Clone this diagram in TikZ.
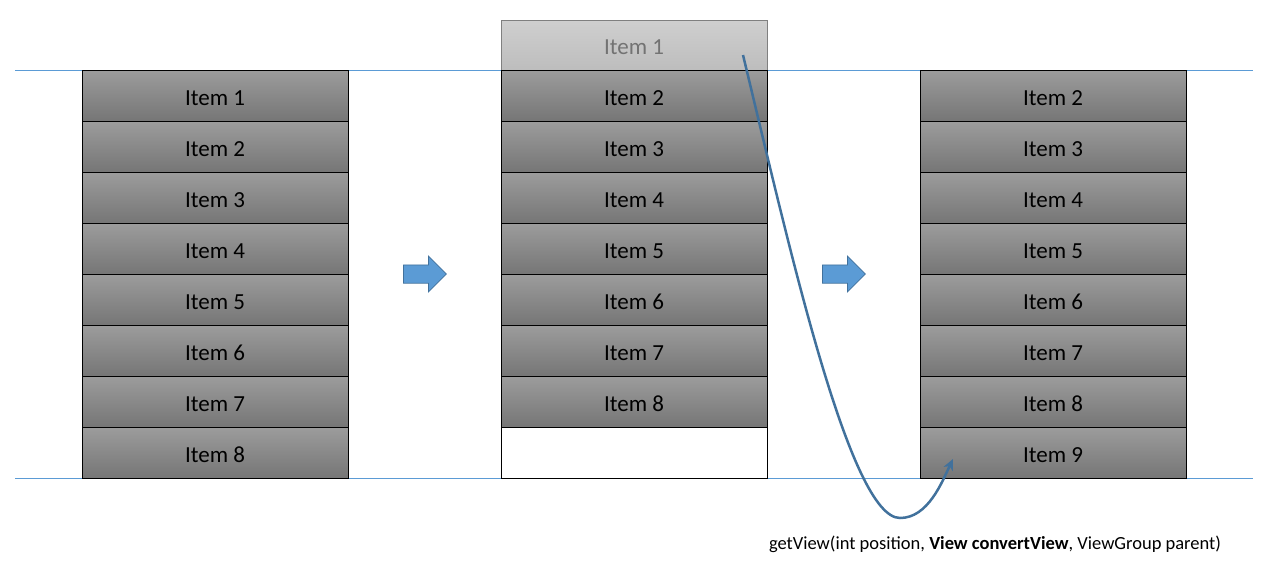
\documentclass[tikz,border=0pt]{standalone}
\usepackage{fontspec}
\setmainfont{Carlito}
\usetikzlibrary{shapes.arrows, arrows.meta, positioning}

\definecolor{itemtop}{HTML}{9C9C9C}
\definecolor{itembot}{HTML}{767676}
\definecolor{ghosttop}{HTML}{CFCFCF}
\definecolor{ghostbot}{HTML}{BDBDBD}
\definecolor{guide}{HTML}{5B9BD5}
\definecolor{curve}{HTML}{41719C}

\begin{document}
\begin{tikzpicture}[x=1pt, y=-1pt,
                    item/.style={rectangle, draw, line width=0.75pt, inner sep=0pt, outer sep=0pt,
                                 minimum width=266, minimum height=51, text height=19pt, text depth=0pt,
                                 top color=itemtop, bottom color=itembot, font=\fontsize{23}{26}\selectfont},
                    ghost/.style={item, draw=gray, top color=ghosttop, bottom color=ghostbot, text=black!55},
                    empty/.style={item, fill=white, top color=white, bottom color=white},
                    step arrow/.style={single arrow, draw=curve, fill=guide, line width=0.75pt, anchor=west,
                                       inner xsep=0pt, inner ysep=8.75pt, minimum height=43,
                                       single arrow head extend=8.75pt},
                    thick,>=Stealth]
\useasboundingbox (0,0) rectangle (1280,574);

% Guide lines
\coordinate (topL) at (15,70);
\coordinate (topR) at (1253,70);
\coordinate (botL) at (15,478);
\coordinate (botR) at (1253,478);
\draw[guide, line width=0.75pt] (topL) -- (topR);
\draw[guide, line width=0.75pt] (botL) -- (botR);

% Columns
\foreach \i in {1,...,8}
  \node[item] (L\i) at (215, 44.5+51*\i) {Item \i};
\node[ghost] (M1) at (634, 45) [minimum height=50] {Item 1};
\foreach \i in {2,...,8}
  \node[item] (M\i) at (634, 44.5+51*\i-51) {Item \i};
\node[empty] (M9) at (634, 452.5) {};
\foreach \i in {2,...,9}
  \node[item] (R\i) at (1053, 44.5+51*\i-51) {Item \i};

% Step arrows
\node[step arrow] (step1) at (403, 274) {};
\node[step arrow] (step2) at (822, 274) {};

% Recycled view
\coordinate (from) at (743,55);
\coordinate (low) at (900,518);
\coordinate (to) at (953,459);
\draw[curve, line width=2.5pt, -{Stealth[length=11pt, width=10pt, inset=3pt]}]
  (from) .. controls (790,250) and (850,518) .. (low) .. controls (928,518) and (942,482) .. (to);

\node[font=\fontsize{18.5}{22}\selectfont, inner sep=0pt] (call) at (995,544)
  {getView(int position, \textbf{View convertView}, ViewGroup parent)};

\end{tikzpicture}
\end{document}
